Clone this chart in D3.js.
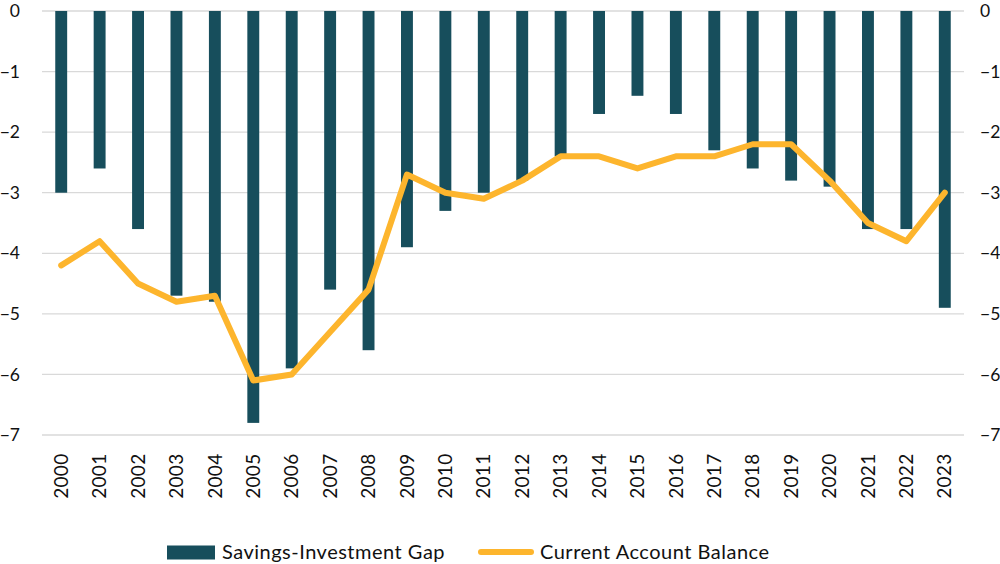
<!DOCTYPE html>
<html>
<head>
<meta charset="utf-8">
<script src="https://cdn.jsdelivr.net/npm/d3@7"></script>
<style>
  body { margin: 0; background: #fff; }
  svg text { font-family: "Lato", "Noto Sans", sans-serif; fill: #111; }
</style>
</head>
<body>
<div id="chart"></div>
<script>
// 数据
var years = ["2000", "2001", "2002", "2003", "2004", "2005", "2006", "2007", "2008", "2009", "2010", "2011",
  "2012", "2013", "2014", "2015", "2016", "2017", "2018", "2019", "2020", "2021", "2022", "2023"];
var gapValues = [-3.0, -2.6, -3.6, -4.7, -4.8, -6.8, -5.9, -4.6, -5.6, -3.9, -3.3, -3.0,
  -2.8, -2.4, -1.7, -1.4, -1.7, -2.3, -2.6, -2.8, -2.9, -3.6, -3.6, -4.9];
var balanceValues = [-4.2, -3.8, -4.5, -4.8, -4.7, -6.1, -6.0, -5.3, -4.6, -2.7, -3.0, -3.1,
  -2.8, -2.4, -2.4, -2.6, -2.4, -2.4, -2.2, -2.2, -2.8, -3.5, -3.8, -3.0];
var yTicks = [0, -1, -2, -3, -4, -5, -6, -7];
var seriesNames = ["Savings-Investment Gap", "Current Account Balance"];

var width = 1000,
  height = 564,
  padding = { left: 42, right: 36, top: 11, bottom: 129 },
  barColor = "#174e5c",
  lineColor = "#fdb52d";

var svg = d3.select("#chart").append("svg")
  .attr("width", width)
  .attr("height", height);

//比例尺
var x = d3.scaleBand()
  .domain(years)
  .range([padding.left, width - padding.right])
  .paddingInner(0.69)
  .paddingOuter(0.345);

var y = d3.scaleLinear()
  .domain([0, -7])
  .range([padding.top, height - padding.bottom]);

//网格线
svg.append("g")
  .selectAll("line")
  .data(yTicks)
  .enter()
  .append("line")
  .attr("x1", padding.left)
  .attr("x2", width - padding.right)
  .attr("y1", function(d) { return y(d); })
  .attr("y2", function(d) { return y(d); })
  .attr("stroke", "#d9d9d9")
  .attr("stroke-width", 1.3);

//左右y轴
var yLeft = svg.append("g")
  .attr("transform", "translate(" + (padding.left - 19) + ",0)")
  .call(d3.axisLeft(y).tickValues(yTicks).tickSize(0).tickFormat(d3.format("d")));
var yRight = svg.append("g")
  .attr("transform", "translate(" + (width - padding.right + 13) + ",0)")
  .call(d3.axisRight(y).tickValues(yTicks).tickSize(0).tickFormat(d3.format("d")));
[yLeft, yRight].forEach(function(g) {
  g.select(".domain").remove();
  g.selectAll("text")
    .attr("font-size", 17.5)
    .attr("fill", "#111")
    .attr("font-family", "Lato, 'Noto Sans', sans-serif");
});

//柱
svg.selectAll(".bar")
  .data(gapValues)
  .enter()
  .append("rect")
  .attr("class", "bar")
  .attr("x", function(d, i) { return x(years[i]); })
  .attr("y", y(0))
  .attr("width", x.bandwidth())
  .attr("height", function(d) { return y(d) - y(0); })
  .attr("fill", barColor);

//线
var line = d3.line()
  .x(function(d, i) { return x(years[i]) + x.bandwidth() / 2; })
  .y(function(d) { return y(d); });

svg.append("path")
  .datum(balanceValues)
  .attr("d", line)
  .attr("fill", "none")
  .attr("stroke", lineColor)
  .attr("stroke-width", 6)
  .attr("stroke-linejoin", "round")
  .attr("stroke-linecap", "round");

//x轴
var xAxis = svg.append("g")
  .attr("transform", "translate(0," + (y(-7) + 18) + ")")
  .call(d3.axisBottom(x).tickSize(0));
xAxis.select(".domain").remove();
xAxis.selectAll("text")
  .attr("font-size", 19)
  .attr("letter-spacing", 0.3)
  .attr("fill", "#111")
  .attr("font-family", "Lato, 'Noto Sans', sans-serif")
  .attr("transform", "rotate(-90)")
  .attr("text-anchor", "end")
  .attr("x", -0.5)
  .attr("y", 0)
  .attr("dy", "0.35em");

//图例
var legend = svg.append("g");
legend.append("rect")
  .attr("x", 167)
  .attr("y", 545.5)
  .attr("width", 48)
  .attr("height", 14)
  .attr("fill", barColor);
legend.append("text")
  .attr("x", 222)
  .attr("y", 551.5)
  .attr("dy", "0.35em")
  .attr("font-size", 20)
  .attr("letter-spacing", 0.5)
  .text(seriesNames[0]);
legend.append("line")
  .attr("x1", 481)
  .attr("x2", 531)
  .attr("y1", 552)
  .attr("y2", 552)
  .attr("stroke", lineColor)
  .attr("stroke-width", 6)
  .attr("stroke-linecap", "round");
legend.append("text")
  .attr("x", 540)
  .attr("y", 551.5)
  .attr("dy", "0.35em")
  .attr("font-size", 20)
  .attr("letter-spacing", 0.5)
  .text(seriesNames[1]);
</script>
</body>
</html>
